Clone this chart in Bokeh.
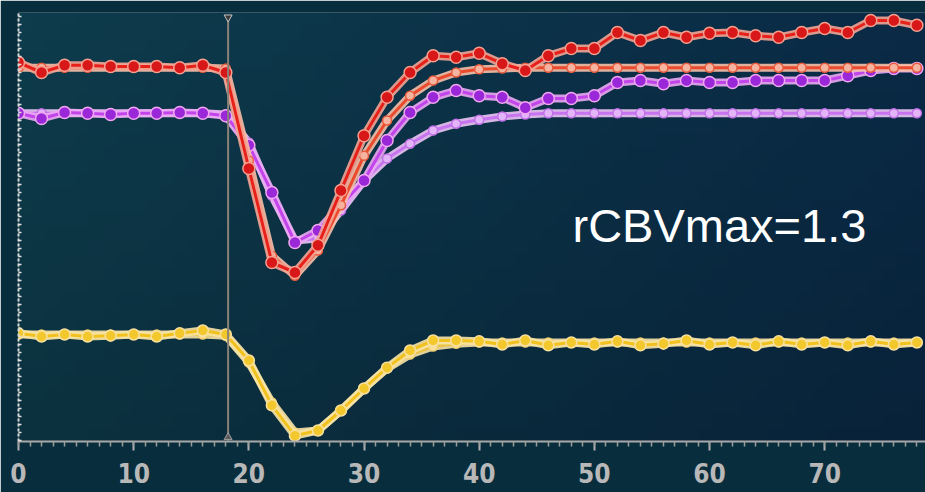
import numpy as np
from bokeh.plotting import figure
from bokeh.models import Range1d, Label, FixedTicker, ColumnDataSource
from bokeh.embed import file_html
from bokeh.resources import INLINE

# ---------------- data ----------------
time = [0, 2, 4, 6, 8, 10, 12, 14, 16, 18, 20, 22, 24, 26, 28, 30, 32, 34, 36, 38,
        40, 42, 44, 46, 48, 50, 52, 54, 56, 58, 60, 62, 64, 66, 68, 70, 72, 74, 76, 78]

red_data = [94.5, 92.0, 93.8, 93.8, 93.5, 93.5, 93.5, 93.2, 93.8, 92.0,
            68.0, 44.5, 42.0, 48.8, 62.5, 76.2, 85.8, 92.0, 96.2, 95.8,
            96.8, 94.2, 92.5, 96.2, 98.0, 98.0, 102.0, 100.0, 102.0, 100.8,
            101.8, 102.0, 101.2, 100.8, 102.0, 103.0, 102.0, 105.0, 105.0, 103.8]

red_fit = [93.2, 93.2, 93.2, 93.2, 93.2, 93.2, 93.2, 93.2, 93.2, 93.0,
           70.0, 46.2, 41.2, 47.5, 58.8, 71.2, 80.0, 86.2, 90.0, 92.0,
           92.8, 93.0, 93.2, 93.2, 93.2, 93.2, 93.2, 93.2, 93.2, 93.2,
           93.2, 93.2, 93.2, 93.2, 93.2, 93.2, 93.2, 93.2, 93.2, 93.2]

purple_data = [81.8, 80.5, 82.0, 81.8, 81.5, 81.8, 81.8, 82.0, 81.8, 81.2,
               73.8, 62.0, 49.5, 52.5, 58.8, 65.0, 75.0, 82.0, 85.8, 87.5,
               86.2, 85.8, 83.2, 85.5, 85.5, 86.2, 89.5, 90.0, 89.2, 90.0,
               89.5, 89.5, 90.0, 90.0, 90.0, 90.0, 91.2, 92.5, 93.0, 93.0]

purple_fit = [81.8, 81.8, 81.8, 81.8, 81.8, 81.8, 81.8, 81.8, 81.8, 81.5,
              74.5, 61.2, 50.0, 50.5, 57.5, 65.0, 70.5, 74.2, 77.5, 79.2,
              80.2, 81.0, 81.5, 81.8, 81.8, 81.8, 81.8, 81.8, 81.8, 81.8,
              81.8, 81.8, 81.8, 81.8, 81.8, 81.8, 81.8, 81.8, 81.8, 81.8]

yellow_data = [26.8, 26.0, 26.5, 26.0, 26.2, 26.5, 26.0, 26.8, 27.5, 26.5,
               20.0, 8.8, 1.2, 2.5, 7.5, 13.0, 18.2, 22.5, 25.0, 25.0,
               24.8, 24.0, 25.0, 23.8, 24.5, 24.0, 24.8, 23.8, 24.2, 25.0,
               24.0, 24.5, 23.8, 24.8, 24.0, 24.5, 23.8, 24.8, 24.0, 24.5]

yellow_fit = [26.5, 26.5, 26.5, 26.5, 26.5, 26.5, 26.5, 26.5, 26.5, 26.2,
              19.5, 9.5, 2.0, 2.5, 7.5, 13.0, 18.0, 21.5, 23.5, 24.2,
              24.5, 24.5, 24.5, 24.5, 24.5, 24.5, 24.5, 24.5, 24.5, 24.5,
              24.5, 24.5, 24.5, 24.5, 24.5, 24.5, 24.5, 24.5, 24.5, 24.5]

x_ticks = [0, 10, 20, 30, 40, 50, 60, 70]
x_minor = list(range(0, 79, 1))
y_minor = list(range(0, 108, 2))
bolus_time = 18.2
annotation = "rCBVmax=1.3"

x_start, x_end = 0, 78.75
y_start, y_end = -0.25, 107

# ---------------- figure ----------------
p = figure(width=925, height=492, x_range=Range1d(x_start, x_end),
           y_range=Range1d(y_start, y_end), output_backend="svg",
           toolbar_location=None, min_border_left=18, min_border_right=0,
           min_border_top=12, min_border_bottom=51)
p.outline_line_color = None
p.grid.visible = False
p.background_fill_color = "#0b3245"
p.border_fill_color = "#082e3d"

# background gradient (teal at left -> navy at right, darker toward bottom)
nx, ny = 64, 32
left = np.array([14, 60, 76], dtype=float)
right = np.array([10, 42, 70], dtype=float)
img = np.empty((ny, nx), dtype=np.uint32)
view = img.view(dtype=np.uint8).reshape((ny, nx, 4))
for j in range(ny):
    shade = 0.82 + 0.18 * (j / (ny - 1))
    for i in range(nx):
        t = i / (nx - 1)
        c = (left * (1 - t) + right * t) * shade
        view[j, i, 0] = int(c[0]); view[j, i, 1] = int(c[1]); view[j, i, 2] = int(c[2]); view[j, i, 3] = 255
p.image_rgba(image=[img], x=x_start, y=y_start, dw=x_end - x_start, dh=y_end - y_start)

# ---------------- curves ----------------
def curve(y, line_col, halo_col, mfill, mline, msize, lw=3):
    src = ColumnDataSource(dict(t=time, v=y))
    p.line("t", "v", source=src, line_width=lw + 5, line_color=halo_col, line_join="round", line_alpha=0.9)
    p.line("t", "v", source=src, line_width=lw, line_color=line_col, line_join="round")
    p.scatter("t", "v", source=src, size=msize, fill_color=mfill, line_color=mline, line_width=1.5)

curve(yellow_fit, "#e9c443", "#f6e2a6", "#f7df9c", "#f0d070", 9)
curve(yellow_data, "#f1c21e", "#f8e3a4", "#f3c82c", "#f8e0a0", 11)
curve(purple_fit, "#c873f0", "#ecc4f6", "#e4b4f8", "#c070e8", 9)
curve(purple_data, "#c244ea", "#eba8f4", "#9a28d8", "#f0a8f0", 12)
curve(red_fit, "#ec4a2c", "#f6c0a8", "#f6b4a0", "#e85a3c", 9)
curve(red_data, "#e8201a", "#f2a494", "#d81818", "#f4a090", 12)

# bolus arrival marker
p.segment(x0=[bolus_time], y0=[0], x1=[bolus_time], y1=[y_end - 1.5], line_color="#8a8276", line_width=2)
p.scatter(x=[bolus_time], y=[y_end - 1.2], marker="inverted_triangle", size=8,
          fill_color="#3a3a3a", line_color="#c8c8c8", line_width=1)
p.scatter(x=[bolus_time], y=[0.8], marker="triangle", size=8,
          fill_color="#5a5a5a", line_color="#a0a0a0", line_width=1)

# annotation text
p.add_layout(Label(x=48.1, y=53.75, text=annotation, text_color="white",
                   text_font="Liberation Sans", text_font_size="47px",
                   text_baseline="alphabetic"))

# ---------------- axes ----------------
xa = p.xaxis[0]
xa.ticker = FixedTicker(ticks=x_ticks, minor_ticks=x_minor)
xa.axis_line_color = "#a9a9a9"
xa.axis_line_width = 2
xa.major_tick_line_color = "#b0b0b0"
xa.major_tick_line_width = 2
xa.major_tick_out = 9
xa.major_tick_in = 0
xa.minor_tick_line_color = "#9c9c9c"
xa.minor_tick_line_width = 1.5
xa.minor_tick_out = 5
xa.minor_tick_in = 0
xa.major_label_text_color = "#b8b8b8"
xa.major_label_text_font = "DejaVu Sans Condensed, DejaVu Sans"
xa.major_label_text_font_style = "bold"
xa.major_label_text_font_size = "26px"
xa.major_label_standoff = 12

ya = p.yaxis[0]
ya.ticker = FixedTicker(ticks=[], minor_ticks=y_minor)
ya.axis_line_color = "#d8d8d8"
ya.axis_line_width = 2
ya.axis_line_dash = "3 2"
ya.minor_tick_line_color = "#e0e0e0"
ya.minor_tick_line_width = 1.5
ya.minor_tick_in = 3
ya.minor_tick_out = 0
ya.major_tick_in = 0
ya.major_tick_out = 0
ya.major_label_standoff = 0

open("out.html", "w").write(file_html(p, INLINE))
